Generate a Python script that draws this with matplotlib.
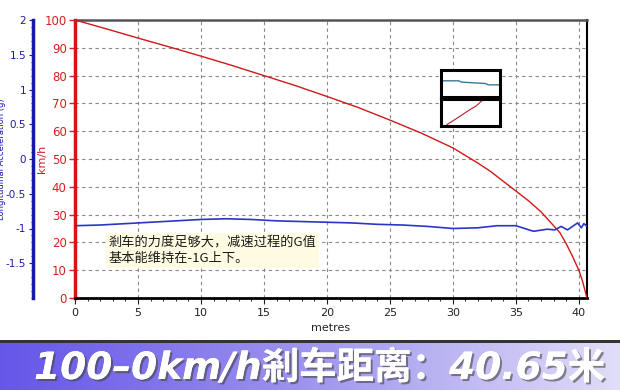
import numpy as np
import matplotlib
matplotlib.use('Agg')
import matplotlib.pyplot as plt
import matplotlib.patheffects as pe
from matplotlib.ticker import MultipleLocator

plt.rcParams['font.family'] = ['DejaVu Sans', 'Noto Sans CJK SC']

# speed trace (km/h) vs distance (m)
dist_speed = [0, 2.5, 5, 7.5, 10, 12.5, 15, 17.5, 20, 22.5, 25, 27.5, 30, 32, 33,
              34, 35, 36, 37, 38, 38.5, 39, 39.5, 40, 40.3, 40.5, 40.65]
speed = [100, 96.8, 93.5, 90.3, 87, 83.6, 80, 76.4, 72.5, 68.5, 64, 59.3, 54, 48.5, 45.5,
         42, 38.5, 35, 31, 26, 23.5, 19.5, 15, 10, 6, 2.5, 0]

# longitudinal acceleration (g) vs distance (m)
dist_g = [0, 2, 4, 6, 8, 10, 12, 14, 16, 18, 20, 22, 24, 26, 28, 30, 32, 33.5,
          35, 36.4, 37.5, 38.1, 38.6, 39.1, 39.5, 39.9, 40.2, 40.4, 40.65]
accel = [-0.96, -0.95, -0.93, -0.91, -0.89, -0.87, -0.86, -0.87, -0.89, -0.9, -0.91,
         -0.92, -0.94, -0.95, -0.97, -1.0, -0.99, -0.96, -0.96, -1.04, -1.01, -1.02,
         -0.97, -1.02, -0.97, -0.92, -0.99, -0.93, -0.97]

x_ticks = [0, 5, 10, 15, 20, 25, 30, 35, 40]
speed_ticks = [0, 10, 20, 30, 40, 50, 60, 70, 80, 90, 100]
g_ticks = [-1.5, -1, -0.5, 0, 0.5, 1, 1.5, 2]

note = '剎车的力度足够大，减速过程的G值\n基本能维持在-1G上下。'
banner = '100–0km/h剎车距离：40.65米'

W, H = 620, 390
fig = plt.figure(figsize=(6.2, 3.9), dpi=100)
fig.patch.set_facecolor('white')

def fbox(x0, y0, x1, y1):
    return [x0 / W, 1 - y1 / H, (x1 - x0) / W, (y1 - y0) / H]

red = '#d42020'
blue = '#1c1ca0'

ax = fig.add_axes(fbox(75, 20, 587, 298))
ax.set_xlim(0, 40.65)
ax.set_ylim(0, 100)
ax.plot(dist_speed, speed, color='#d01818', lw=1.0, zorder=3)
ax.set_xticks(x_ticks)
ax.set_yticks(speed_ticks)
ax.xaxis.set_minor_locator(MultipleLocator(1))
ax.grid(True, color='#888888', ls=(0, (3, 3)), lw=0.8)
ax.tick_params(axis='x', labelsize=8, colors='#222222', length=4)
ax.tick_params(axis='x', which='minor', length=2)
ax.tick_params(axis='y', labelsize=8.5, colors=red, length=4, width=1, pad=2)
ax.set_xlabel('metres', fontsize=8, color='#222222', labelpad=3)
ax.set_ylabel('km/h', fontsize=8, color=red)
ax.yaxis.set_label_coords(-0.055, 0.5)
ax.spines['left'].set_color('#e01010')
ax.spines['left'].set_linewidth(2.5)
ax.spines['bottom'].set_color('black')
ax.spines['bottom'].set_linewidth(2)
ax.spines['top'].set_color('#555555')
ax.spines['top'].set_linewidth(1.8)
ax.spines['right'].set_color('black')
ax.spines['right'].set_linewidth(1.5)

ax2 = ax.twinx()
ax2.set_ylim(-2, 2)
ax2.plot(dist_g, accel, color='#2a36c8', lw=1.2, zorder=3)
ax2.yaxis.set_ticks_position('left')
ax2.yaxis.set_label_position('left')
ax2.spines['left'].set_position(('axes', -0.082))
ax2.spines['left'].set_visible(True)
ax2.spines['left'].set_color('#1818a8')
ax2.spines['left'].set_linewidth(2.5)
for s in ['top', 'right', 'bottom']:
    ax2.spines[s].set_visible(False)
ax2.set_yticks(g_ticks)
ax2.set_yticklabels(['-1.5', '-1', '-0.5', '0', '0.5', '1', '1.5', '2'])
ax2.yaxis.set_minor_locator(MultipleLocator(0.1))
ax2.tick_params(axis='y', labelsize=7.5, colors=blue, length=3, pad=2)
ax2.tick_params(axis='y', which='minor', length=1.5, colors=blue)
ax2.set_ylabel('Longitudinal Acceleration (g)', fontsize=6, color=blue)
ax2.yaxis.set_label_coords(-0.134, 0.5)

ax.text(0.065, 0.172, note, transform=ax.transAxes, fontsize=9.5,
        family=['Noto Sans CJK SC', 'DejaVu Sans'], color='#1a1a1a',
        va='center', ha='left', linespacing=1.4, zorder=5,
        bbox=dict(boxstyle='square,pad=0.2', fc='#fffbe2', ec='none'))

# little legend swatches
sw1 = fig.add_axes(fbox(441, 70, 500, 97))
sw1.plot([0, 0.3, 0.35, 0.75, 0.8, 1.0], [0.6, 0.6, 0.55, 0.5, 0.45, 0.45], color='#3a7896', lw=1)
sw2 = fig.add_axes(fbox(441, 99, 500, 126))
sw2.plot([0.1, 0.35, 0.45, 0.6, 0.7], [0.05, 0.4, 0.55, 0.75, 0.95], color='#b02030', lw=0.8)
for s in (sw1, sw2):
    s.set_xlim(0, 1)
    s.set_ylim(0, 1)
    s.set_xticks([])
    s.set_yticks([])
    for sp in s.spines.values():
        sp.set_linewidth(2.2)
        sp.set_color('black')

# banner
bax = fig.add_axes(fbox(0, 343, 620, 390))
grad = np.linspace(0, 1, 256)
c0 = np.array([0.40, 0.34, 0.91])
c1 = np.array([0.88, 0.87, 0.97])
img = c0[None, :] + (c1 - c0)[None, :] * grad[:, None] ** 1.1
bax.imshow(img[None, :, :], aspect='auto', extent=[0, 1, 0, 1])
bax.set_xlim(0, 1)
bax.set_ylim(0, 1)
bax.axis('off')
bax.text(0.055, 0.45, banner, fontsize=27, fontweight='heavy', style='italic',
         color='white', va='center', ha='left',
         path_effects=[pe.withSimplePatchShadow(offset=(1.5, -1.5), shadow_rgbFace='#444444', alpha=0.6),
                       pe.Normal()])
line_ax = fig.add_axes(fbox(0, 340, 620, 343))
line_ax.set_facecolor('#333333')
line_ax.set_xticks([])
line_ax.set_yticks([])
for sp in line_ax.spines.values():
    sp.set_visible(False)

fig.savefig('out.png', dpi=100)
